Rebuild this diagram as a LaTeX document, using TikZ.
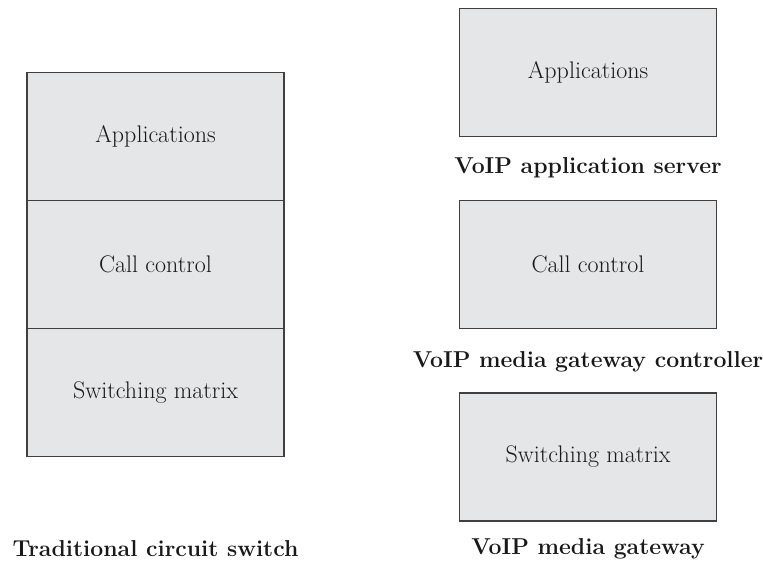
\documentclass[tikz,border=0pt]{standalone}
\definecolor{boxfill}{HTML}{E5E6E8}
\definecolor{boxline}{HTML}{404040}
\begin{document}
\begin{tikzpicture}[x=1pt,y=-1pt,
  blk/.style={draw=boxline,line width=1.4pt,fill=boxfill,minimum width=257pt,minimum height=128pt,inner sep=0pt,font=\fontsize{24}{28}\selectfont,text=black!90},
  captxt/.style={font=\fontsize{23}{27}\selectfont\bfseries,text=black!90}]
\useasboundingbox (0,0) rectangle (763,563);
% left stack
\node[blk] (la) at (155.5,136.7) {Applications};
\node[blk] (lc) at (155.5,264.7) {Call control};
\node[blk] (ls) at (155.5,392.7) {Switching matrix};
\node[captxt] (lt) at (155.5,549) {Traditional circuit switch};
% right boxes
\node[blk] (ra) at (588,72.7) {Applications};
\node[captxt] (rat) at (588,168) {VoIP application server};
\node[blk] (rc) at (588,264.7) {Call control};
\node[captxt] (rct) at (588,361.5) {VoIP media gateway controller};
\node[blk] (rs) at (588,456.8) {Switching matrix};
\node[captxt] (rst) at (588,549) {VoIP media gateway};
\end{tikzpicture}
\end{document}
